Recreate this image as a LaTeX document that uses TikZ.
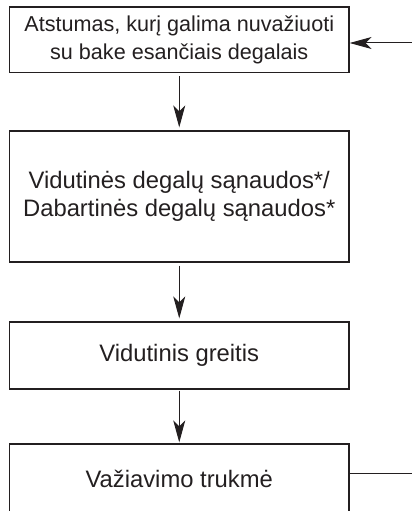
\documentclass[tikz,border=0pt]{standalone}
\usepackage{fontspec}
\setmainfont{Liberation Sans}
\usetikzlibrary{arrows.meta}
\definecolor{ink}{HTML}{231F20}
\begin{document}
\begin{tikzpicture}[x=1pt,y=1pt,
  box/.style={draw=ink,line width=1.2pt,minimum width=339.5pt,inner sep=0pt,align=center,text=ink},
  conn/.style={draw=ink,line width=1pt,-{Stealth[length=22pt,width=12pt,inset=6pt]}},
  plain/.style={draw=ink,line width=1pt}]
\useasboundingbox (0,0) rectangle (412,-511);
\clip (0,0) rectangle (412,-511);
\node[box,minimum height=65.5pt,font=\fontsize{21.6}{27.5}\selectfont] (b1) at (179.25,-39.75)
  {Atstumas, kurį galima nuvažiuoti\\su bake esančiais degalais};
\node[box,minimum height=131pt,font=\fontsize{23.8}{28}\selectfont] (b2) at (179.25,-196.5)
  {Vidutinės degalų sąnaudos*/\\Dabartinės degalų sąnaudos*};
\node[box,minimum height=67pt,font=\fontsize{23.8}{28}\selectfont] (b3) at (179.25,-355.5)
  {Vidutinis greitis};
\node[box,minimum height=70pt,font=\fontsize{23.8}{28}\selectfont] (b4) at (179.25,-479)
  {Važiavimo trukmė};
\coordinate (r1) at (412,-43);
\coordinate (r4) at (412,-473);
\draw[conn,shorten <=3pt,shorten >=3pt] (b1.south) -- (b2.north);
\draw[conn,shorten <=3pt,shorten >=3pt] (b2.south) -- (b3.north);
\draw[conn,shorten <=1pt,shorten >=1pt] (b3.south) -- (b4.north);
\draw[conn] (r1) -- (r1 -| b1.east);
\draw[plain] (r4 -| b4.east) -- (r4);
\end{tikzpicture}
\end{document}
